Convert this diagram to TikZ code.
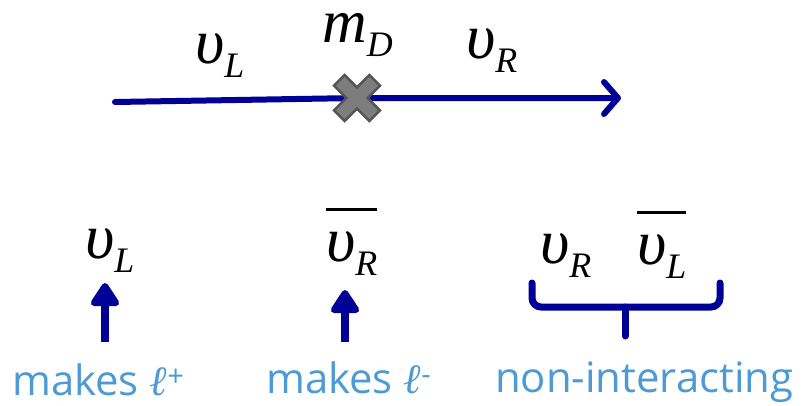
\documentclass[tikz,border=0pt]{standalone}
\usepackage{fontspec}
\setmainfont{Open Sans}
\newfontfamily\tnr{Liberation Serif}
\usepackage{xcolor}
\usepackage{tikz}
\usetikzlibrary{arrows.meta}

\definecolor{navy}{RGB}{0,0,150}
\definecolor{lblue}{RGB}{78,154,212}
\definecolor{xgray}{RGB}{125,125,125}
\definecolor{xdark}{RGB}{85,85,85}

\newsavebox\nubox
\newcommand{\nusub}[1]{{\tnr\itshape\fontsize{64}{60}\selectfont υ}{\tnr\itshape\fontsize{36}{36}\selectfont\raisebox{-0.4em}{#1}}}
\newcommand{\nubar}[1]{\sbox\nubox{\nusub{#1}}\rlap{\rule[50bp]{\wd\nubox}{3.5bp}}\usebox\nubox}

\begin{document}
\begin{tikzpicture}[
			x=1bp, y=-1bp,
			sym/.style={anchor=base west, inner sep=0pt},
			note/.style={anchor=base west, inner sep=0pt, text=lblue, font=\fontsize{42}{42}\selectfont},
			mainline/.style={draw=navy, line width=6bp, line cap=round, line join=round,
				-{Straight Barb[length=14bp, width=32bp, round]}},
			uparrow/.style={draw=navy, line width=8bp, -{Triangle[round, length=26bp, width=32bp]}},
			brace/.style={draw=navy, line width=7bp, rounded corners=9bp, line cap=round},
			xmark/.style={fill=xgray, draw=xdark, line width=2.5bp, line join=miter}
			]
			\useasboundingbox (0,0) rectangle (802,405);
			
			% -------------------------------
			% MASS TERM
			% -------------------------------
			\coordinate (vstart) at (115,102);
			\coordinate (xc) at (357,98);
			\coordinate (vend) at (621,98);
			\draw[mainline] (vstart) -- (xc) -- (vend);
			\draw[xmark, shift={(xc)}, rotate=45]
				(7.5,7.5) -- (25,7.5) -- (25,-7.5) -- (7.5,-7.5) -- (7.5,-25) -- (-7.5,-25)
				-- (-7.5,-7.5) -- (-25,-7.5) -- (-25,7.5) -- (-7.5,7.5) -- (-7.5,25) -- (7.5,25) -- cycle;
			
			\node[sym] (nuLt) at (195,63) {\nusub{L}};
			\node[sym] (mD) at (322,42) {{\tnr\itshape\fontsize{62}{48}\selectfont m}{\tnr\itshape\fontsize{36}{36}\selectfont\raisebox{-0.4em}{D}}};
			\node[sym] (nuRt) at (466,58) {\nusub{R}};
			
			% -------------------------------
			% STATES
			% -------------------------------
			\node[sym] (nuLb) at (85,258) {\nusub{L}};
			\node[sym] (nuRbar) at (326,261) {\nubar{R}};
			\node[sym] (nuRb) at (540,263) {\nusub{R}};
			\node[sym] (nuLbar) at (637,264) {\nubar{L}};
			
			% -------------------------------
			% LABELS
			% -------------------------------
			\node[note] (mkp) at (12,395) {makes {\tnr\itshape ℓ}\textsuperscript{+}};
			\node[note] (mkm) at (266,393) {makes {\tnr\itshape ℓ}\textsuperscript{-}};
			\node[note] (nonint) at (495,392) {non-interacting};
			
			% -------------------------------
			% ARROWS
			% -------------------------------
			\coordinate (a1) at (105,342);
			\coordinate (a1t) at (105,283);
			\coordinate (a2) at (345,342);
			\coordinate (a2t) at (345,290);
			\draw[uparrow] (a1) -- (a1t);
			\draw[uparrow] (a2) -- (a2t);
			
			\coordinate (brl) at (532,283);
			\coordinate (brm) at (625,307);
			\coordinate (brr) at (720,283);
			\coordinate (brt) at (625,336);
			\draw[brace] (brl) |- (brm) -| (brr);
			\draw[brace] (brm) -- (brt);
			
		\end{tikzpicture}
\end{document}
